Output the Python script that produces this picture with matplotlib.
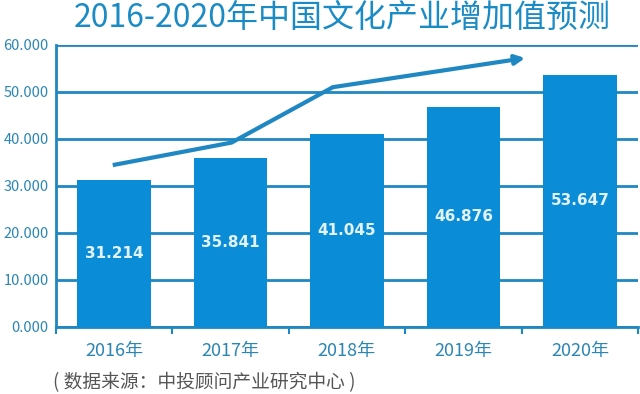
import matplotlib
matplotlib.use("Agg")
import matplotlib.pyplot as plt

plt.rcParams['font.family'] = ['Noto Sans CJK SC', 'DejaVu Sans']

# data
years = ["2016年", "2017年", "2018年", "2019年", "2020年"]
values = [31.214, 35.841, 41.045, 46.876, 53.647]
yticks = [0, 10, 20, 30, 40, 50, 60]
# trend arrow drawn over the bars (data coords)
trend_x = [-0.01, 1.01, 1.88, 3.53]
trend_y = [34.4, 39.2, 51.0, 57.2]

title = "2016-2020年中国文化产业增加值预测"
source = "( 数据来源：中投顾问产业研究中心 )"

bar_color = "#0a8dd6"
line_color = "#1f87c2"
text_color = "#2b86b4"

fig = plt.figure(figsize=(6.4, 3.94), dpi=100)
ax = fig.add_axes([0.087, 0.171, 0.91, 0.715])

x = range(len(years))
ax.bar(x, values, width=0.63, color=bar_color, zorder=3)

for i, v in enumerate(values):
    ax.text(i, v / 2, f"{v:.3f}", ha='center', va='center', color='#e2f2fb',
            fontsize=11, fontweight='bold', family='DejaVu Sans', zorder=4)

ax.plot(trend_x[:-1], trend_y[:-1], color=line_color, lw=3,
        solid_capstyle='butt', solid_joinstyle='miter', zorder=5)
ax.annotate('', xy=(trend_x[-1], trend_y[-1]), xytext=(trend_x[-2], trend_y[-2]),
            arrowprops=dict(arrowstyle='-|>', color=line_color, lw=3,
                            mutation_scale=14, shrinkA=0, shrinkB=0),
            zorder=5)

ax.set_xlim(-0.5, len(years) - 0.5)
ax.set_ylim(0, 60)
ax.set_yticks(yticks)
ax.set_yticklabels([f"{t:.3f}" for t in yticks], color=text_color, fontsize=10.5)
ax.set_xticks(list(x))
ax.set_xticklabels(years, color=text_color, fontsize=13)
ax.set_xticks([i - 0.5 for i in range(len(years) + 1)], minor=True)
ax.tick_params(axis='x', which='major', length=0, pad=11)
ax.tick_params(axis='x', which='minor', length=5, width=1.5, color=line_color)
ax.tick_params(axis='y', length=0, pad=5)

ax.yaxis.grid(True, color=line_color, lw=2, zorder=1)
ax.set_axisbelow(True)
for s in ['top', 'right']:
    ax.spines[s].set_visible(False)
for s in ['left', 'bottom']:
    ax.spines[s].set_color(line_color)
    ax.spines[s].set_linewidth(2)

fig.text(0.535, 0.955, title, ha='center', va='center', color='#1b8bc6', fontsize=23)
fig.text(0.083, 0.028, source, ha='left', va='center', color='#555555', fontsize=13.5)

fig.savefig("out.png", dpi=100)
